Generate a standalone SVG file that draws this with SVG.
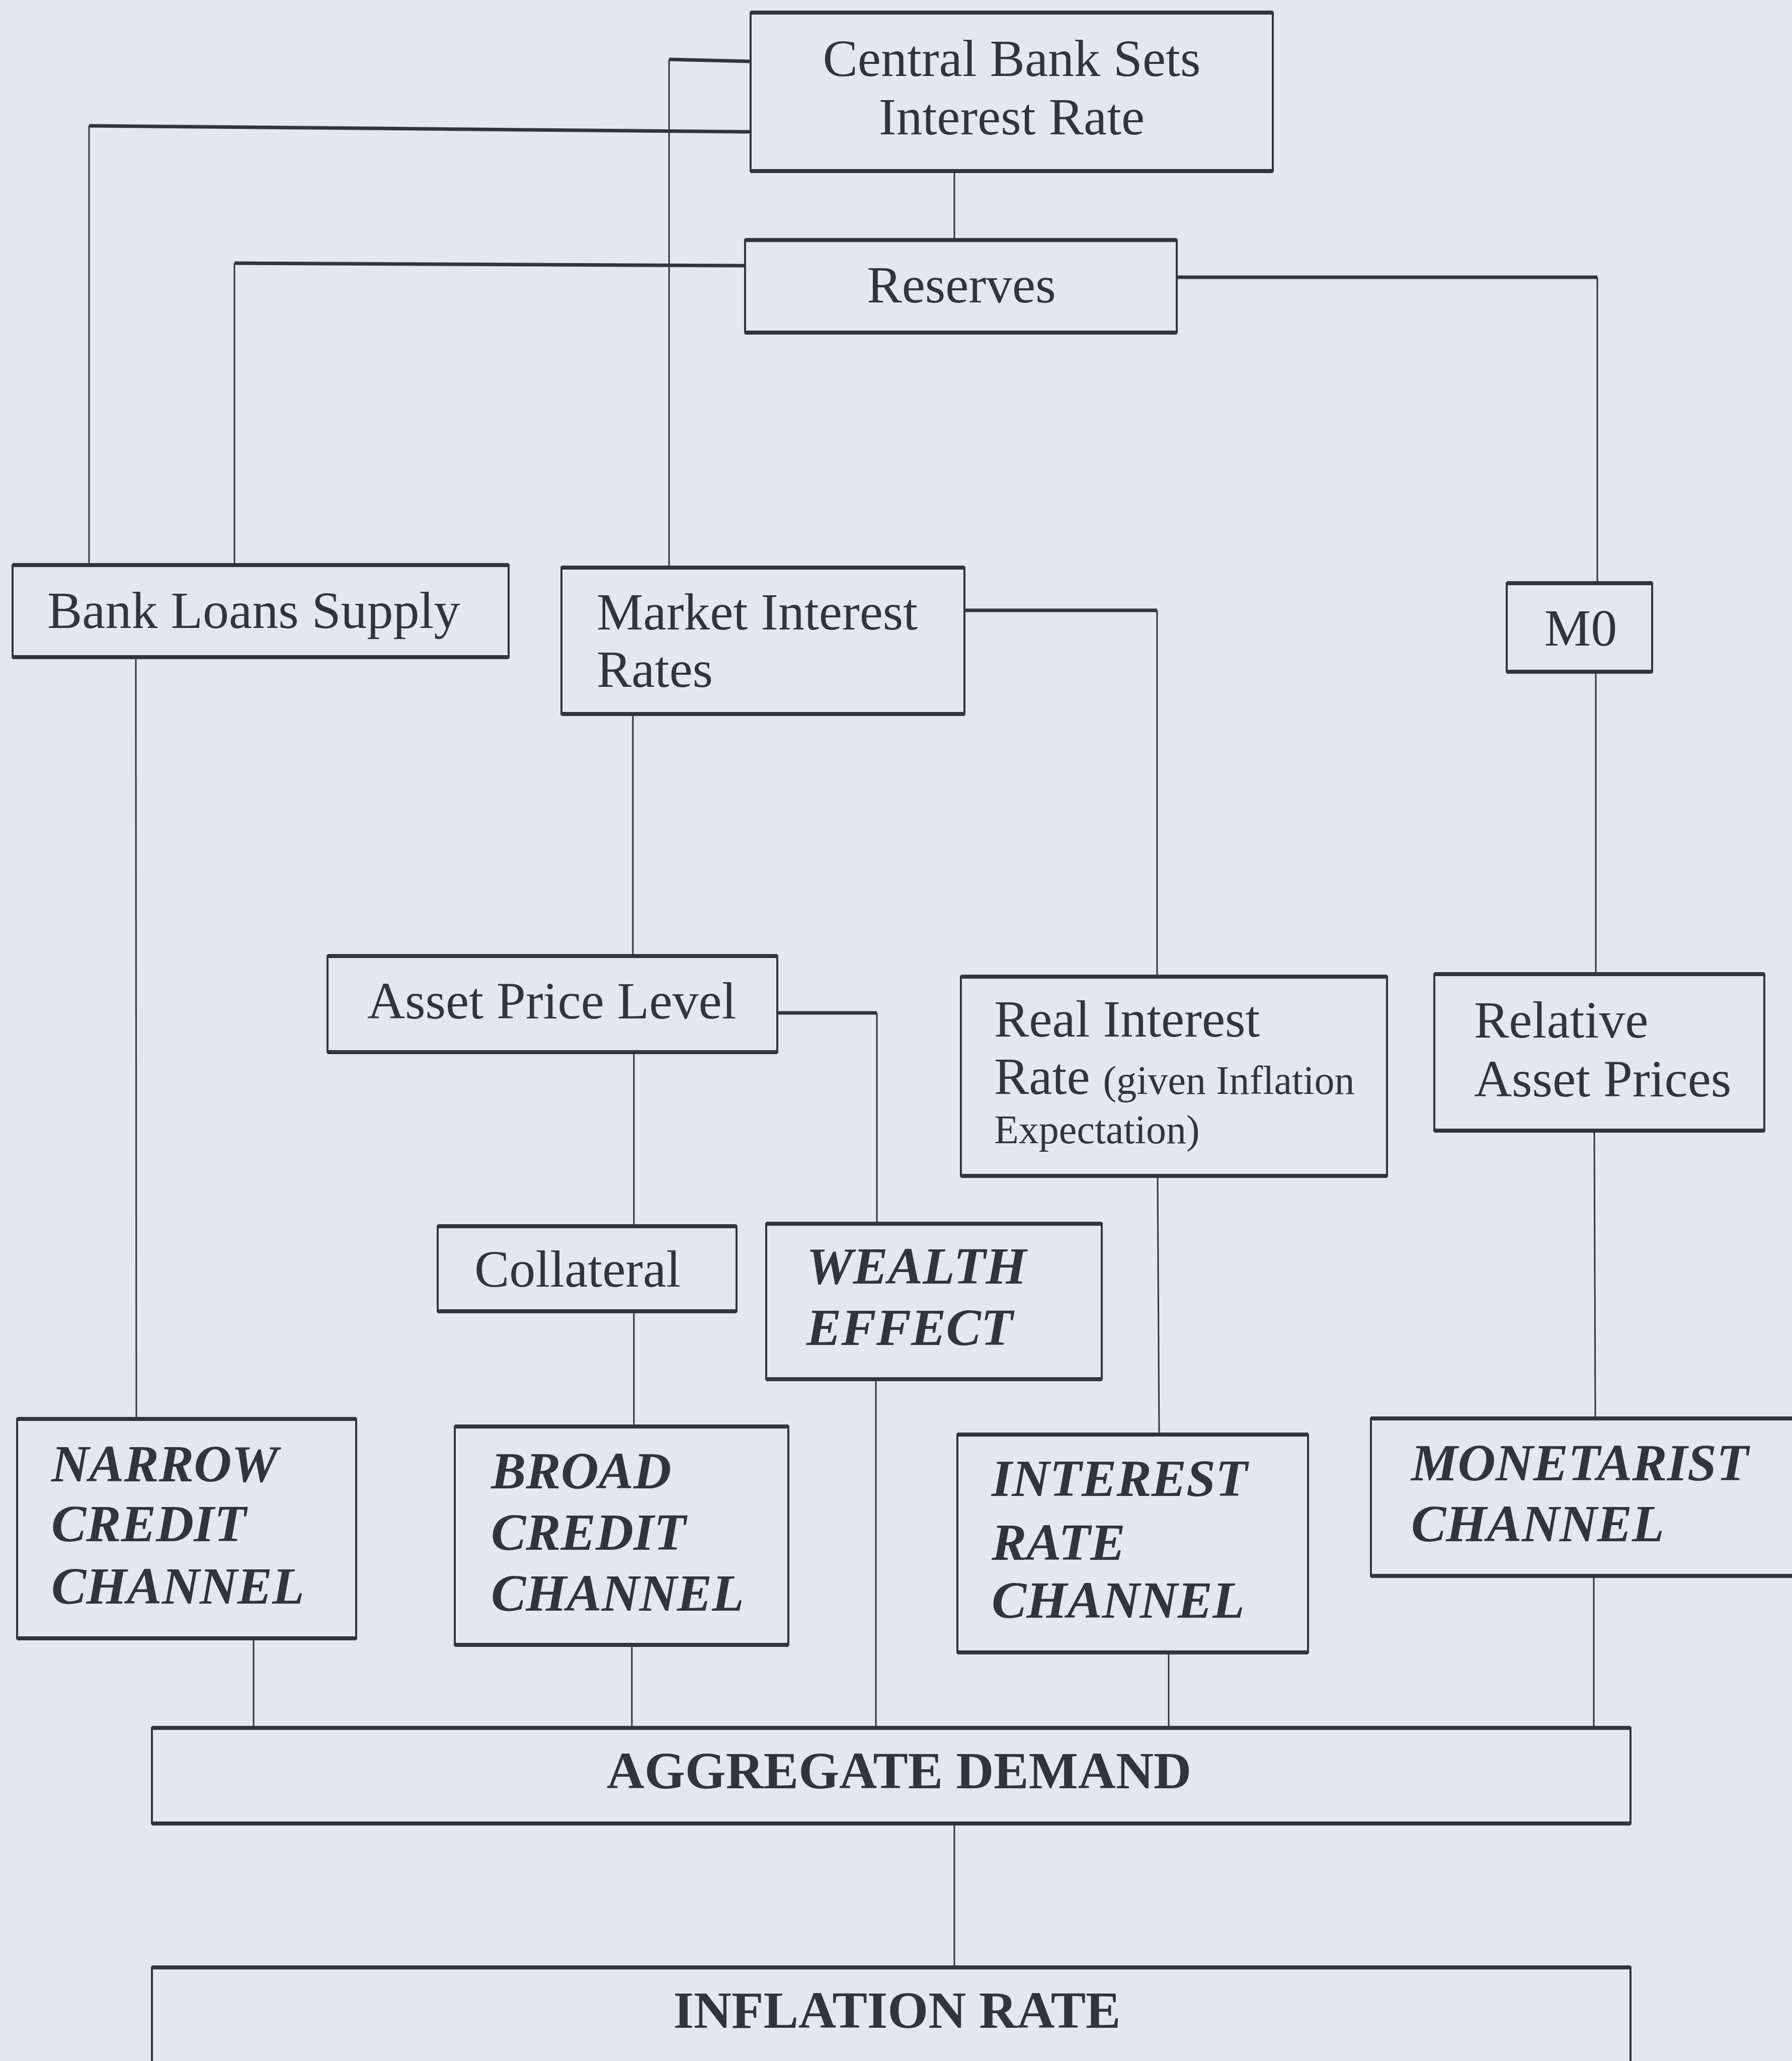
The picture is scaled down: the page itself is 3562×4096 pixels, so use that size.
<svg xmlns="http://www.w3.org/2000/svg" width="3562" height="4096" viewBox="0 0 3562 4096">
<style>
.bg{fill:#e6e6ef}
.box{fill:none;stroke:#34343e;stroke-width:4}
.edge{fill:none;stroke:#34343e;stroke-width:8}
.wire{fill:none;stroke:#34343e;stroke-width:3}
.hw{fill:none;stroke:#34343e;stroke-width:7}
text{font-family:"Liberation Serif","Times New Roman",serif;fill:#33333d;font-size:104px}
.c{text-anchor:middle}
.bi{font-weight:bold;font-style:italic}
.b{font-weight:bold}
.sm{font-size:80px}
</style>
<rect class="bg" x="0" y="0" width="3562" height="4096"/>
<g id="connectors">
<polyline class="hw" points="1492,262 177,250"/><polyline class="wire" points="177,250 177,1123"/>
<polyline class="hw" points="1492,122 1330,118"/><polyline class="wire" points="1330,118 1330,1128"/>
<polyline class="wire" points="1897,340 1897,477"/>
<polyline class="hw" points="1481,528 466,523"/><polyline class="wire" points="466,523 466,1123"/>
<polyline class="hw" points="2339,551 3175,551"/><polyline class="wire" points="3175,551 3175,1159"/>
<polyline class="hw" points="1917,1213 2300,1213"/><polyline class="wire" points="2300,1213 2300,1941"/>
<polyline class="wire" points="1258,1419 1258,1900"/>
<polyline class="wire" points="270,1306 271,2820"/>
<polyline class="wire" points="3172,1335 3172,1936"/>
<polyline class="hw" points="1545,2013 1743,2013"/><polyline class="wire" points="1743,2013 1743,2432"/>
<polyline class="wire" points="1260,2091 1260,2437"/>
<polyline class="wire" points="1260,2606 1260,2835"/>
<polyline class="wire" points="2301,2337 2304,2851"/>
<polyline class="wire" points="3169,2247 3171,2819"/>
<polyline class="wire" points="504,3256 504,3434"/>
<polyline class="wire" points="1256,3269 1256,3434"/>
<polyline class="wire" points="1741,2741 1741,3434"/>
<polyline class="wire" points="2323,3284 2323,3434"/>
<polyline class="wire" points="3168,3132 3168,3434"/>
<polyline class="wire" points="1897,3624 1897,3910"/>
</g>
<g id="central-bank">
<rect class="box" x="1492" y="25" width="1038" height="315"/>
<path class="edge" d="M1492 25H2530M1492 340H2530"/>
<text class="c" x="2011" y="151">Central Bank Sets</text>
<text class="c" x="2011" y="267">Interest Rate</text>
</g>
<g id="reserves">
<rect class="box" x="1481" y="477" width="858" height="184"/>
<path class="edge" d="M1481 477H2339M1481 661H2339"/>
<text class="c" x="1911" y="601">Reserves</text>
</g>
<g id="bank-loans">
<rect class="box" x="25" y="1123" width="986" height="183"/>
<path class="edge" d="M25 1123H1011M25 1306H1011"/>
<text x="94" y="1248">Bank Loans Supply</text>
</g>
<g id="market-interest">
<rect class="box" x="1116" y="1128" width="801" height="291"/>
<path class="edge" d="M1116 1128H1917M1116 1419H1917"/>
<text x="1186" y="1251">Market Interest</text>
<text x="1186" y="1365">Rates</text>
</g>
<g id="m0">
<rect class="box" x="2995" y="1159" width="289" height="176"/>
<path class="edge" d="M2995 1159H3284M2995 1335H3284"/>
<text class="c" x="3142" y="1283">M0</text>
</g>
<g id="asset-price">
<rect class="box" x="651" y="1900" width="894" height="191"/>
<path class="edge" d="M651 1900H1545M651 2091H1545"/>
<text x="730" y="2024">Asset Price Level</text>
</g>
<g id="real-interest">
<rect class="box" x="1910" y="1941" width="847" height="396"/>
<path class="edge" d="M1910 1941H2757M1910 2337H2757"/>
<text x="1976" y="2060">Real Interest</text>
<text x="1976" y="2174">Rate <tspan class="sm">(given Inflation</tspan></text>
<text class="sm" x="1976" y="2272">Expectation)</text>
</g>
<g id="relative-asset">
<rect class="box" x="2851" y="1936" width="656" height="311"/>
<path class="edge" d="M2851 1936H3507M2851 2247H3507"/>
<text x="2930" y="2062">Relative</text>
<text x="2930" y="2179">Asset Prices</text>
</g>
<g id="collateral">
<rect class="box" x="870" y="2437" width="594" height="169"/>
<path class="edge" d="M870 2437H1464M870 2606H1464"/>
<text x="943" y="2557">Collateral</text>
</g>
<g id="wealth">
<rect class="box" x="1523" y="2432" width="667" height="309"/>
<path class="edge" d="M1523 2432H2190M1523 2741H2190"/>
<text class="bi" x="1603" y="2551">WEALTH</text>
<text class="bi" x="1603" y="2673">EFFECT</text>
</g>
<g id="narrow">
<rect class="box" x="34" y="2820" width="674" height="436"/>
<path class="edge" d="M34 2820H708M34 3256H708"/>
<text class="bi" x="102" y="2944">NARROW</text>
<text class="bi" x="102" y="3063">CREDIT</text>
<text class="bi" x="102" y="3187">CHANNEL</text>
</g>
<g id="broad">
<rect class="box" x="904" y="2835" width="663" height="434"/>
<path class="edge" d="M904 2835H1567M904 3269H1567"/>
<text class="bi" x="976" y="2958">BROAD</text>
<text class="bi" x="976" y="3080">CREDIT</text>
<text class="bi" x="976" y="3201">CHANNEL</text>
</g>
<g id="interest-channel">
<rect class="box" x="1903" y="2851" width="697" height="433"/>
<path class="edge" d="M1903 2851H2600M1903 3284H2600"/>
<text class="bi" x="1971" y="2973">INTEREST</text>
<text class="bi" x="1971" y="3100">RATE</text>
<text class="bi" x="1971" y="3215">CHANNEL</text>
</g>
<g id="monetarist">
<rect class="box" x="2725" y="2819" width="900" height="313"/>
<path class="edge" d="M2725 2819H3625M2725 3132H3625"/>
<text class="bi" x="2805" y="2942">MONETARIST</text>
<text class="bi" x="2805" y="3063">CHANNEL</text>
</g>
<g id="aggregate-demand">
<rect class="box" x="302" y="3434" width="2939" height="190"/>
<path class="edge" d="M302 3434H3241M302 3624H3241"/>
<text class="c b" x="1787" y="3554">AGGREGATE DEMAND</text>
</g>
<g id="inflation">
<rect class="box" x="302" y="3910" width="2939" height="260"/>
<path class="edge" d="M302 3910H3241"/>
<text class="c b" x="1783" y="4030">INFLATION RATE</text>
</g>
</svg>
